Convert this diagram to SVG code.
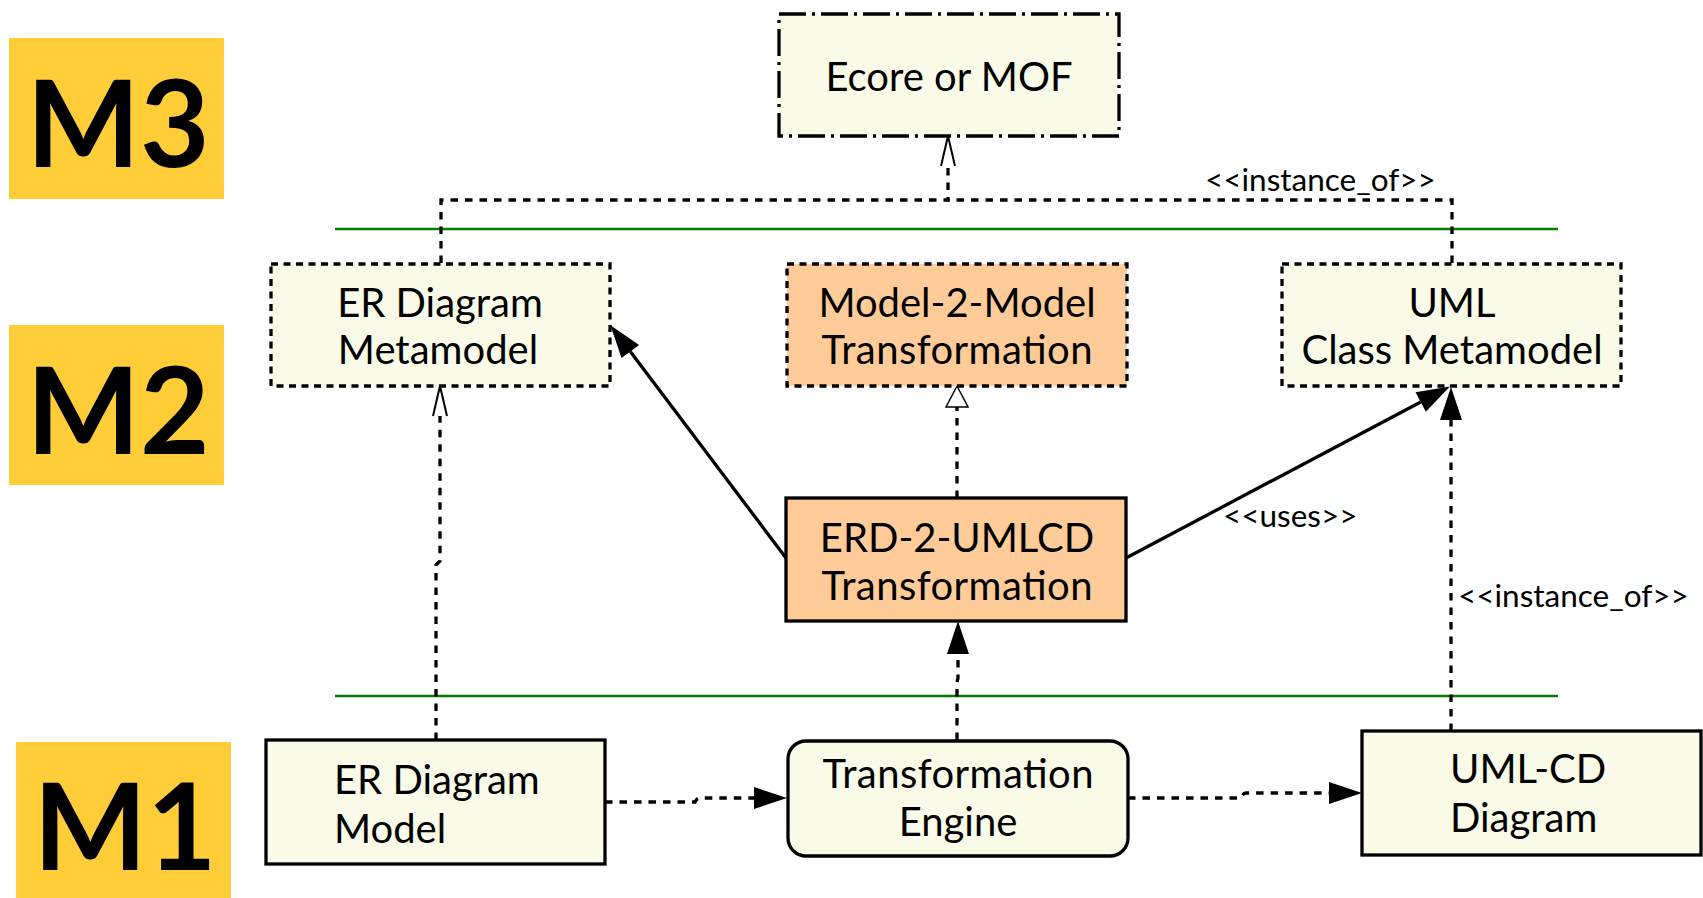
<svg xmlns="http://www.w3.org/2000/svg" width="1703" height="898" viewBox="0 0 1703 898">
  <style>
    .level { fill: #FFCD38; }
    .level-text { font-family: Lato, "Liberation Sans", sans-serif; font-weight: bold; font-size: 120px; fill: #000; text-anchor: middle; }
    .box { stroke: #000; stroke-width: 3.3; }
    .light { fill: #F9FBE8; }
    .peach { fill: #FFCC99; }
    .dashed { stroke-dasharray: 7 5.5; }
    .dashdot { stroke-dasharray: 27 6 3 6; }
    .label { font-family: Lato, "Liberation Sans", sans-serif; font-size: 40px; fill: #000; }
    .mid { text-anchor: middle; }
    .tag { font-family: Lato, "Liberation Sans", sans-serif; font-size: 31.5px; fill: #000; }
    .sep { stroke: #008000; stroke-width: 2.5; fill: none; }
    .conn { stroke: #000; stroke-width: 3.3; fill: none; }
    .conn-dash { stroke-dasharray: 7.5 7; }
  </style>
  <defs>
    <marker id="head-filled" markerUnits="userSpaceOnUse" markerWidth="34" markerHeight="24" refX="0" refY="11" orient="auto" overflow="visible">
      <path d="M0,0 L33,11 L0,22 Z" fill="#000"/>
    </marker>
    <marker id="head-hollow" markerUnits="userSpaceOnUse" markerWidth="24" markerHeight="24" refX="0" refY="11" orient="auto" overflow="visible">
      <path d="M0,0 L21,11 L0,22 Z" fill="#fff" stroke="#000" stroke-width="1.5"/>
    </marker>
    <marker id="head-open" markerUnits="userSpaceOnUse" markerWidth="32" markerHeight="18" refX="0" refY="8" orient="auto" overflow="visible">
      <path d="M0,1 L30,8 L0,15" fill="none" stroke="#000" stroke-width="2"/>
    </marker>
  </defs>

  <!-- level badges -->
  <g id="level-m3">
    <rect class="level" x="9" y="38" width="215" height="161"/>
    <text class="level-text" x="118" y="167">M3</text>
  </g>
  <g id="level-m2">
    <rect class="level" x="9" y="325" width="215" height="160"/>
    <text class="level-text" x="118" y="454">M2</text>
  </g>
  <g id="level-m1">
    <rect class="level" x="16" y="742" width="215" height="160"/>
    <text class="level-text" x="125" y="870">M1</text>
  </g>

  <!-- level separators -->
  <g id="separators">
    <line class="sep" x1="335" y1="229" x2="1558" y2="229"/>
    <line class="sep" x1="335" y1="696" x2="1558" y2="696"/>
  </g>

  <!-- connectors -->
  <g id="connectors">
    <path class="conn conn-dash" d="M441,263 V200 H948 V166" marker-end="url(#head-open)"/>
    <path class="conn conn-dash" d="M1452,263 V200 H948"/>
    <path class="conn conn-dash" d="M436,740 V565 L440,561 V416" marker-end="url(#head-open)"/>
    <path class="conn conn-dash" d="M957,498 V407" marker-end="url(#head-hollow)"/>
    <path class="conn" d="M786,558 L630.3,351.5" marker-end="url(#head-filled)"/>
    <path class="conn" d="M1126,558 L1420.7,402" marker-end="url(#head-filled)"/>
    <path class="conn conn-dash" d="M1451,731 V420" marker-end="url(#head-filled)"/>
    <path class="conn conn-dash" d="M957,740 V682 L958,678 V654" marker-end="url(#head-filled)"/>
    <path class="conn conn-dash" d="M605,802 H695 Q697,798 700,798 H754" marker-end="url(#head-filled)"/>
    <path class="conn conn-dash" d="M1128,798 H1241 Q1243,793 1246,793 H1329" marker-end="url(#head-filled)"/>
    <text class="tag" x="1205" y="191">&lt;&lt;instance_of&gt;&gt;</text>
    <text class="tag" x="1223" y="527">&lt;&lt;uses&gt;&gt;</text>
    <text class="tag" x="1458" y="607">&lt;&lt;instance_of&gt;&gt;</text>
  </g>

  <!-- M3 -->
  <g id="ecore-mof">
    <rect class="box light dashdot" x="779" y="14" width="340" height="122"/>
    <text class="label mid" x="949" y="91">Ecore or MOF</text>
  </g>

  <!-- M2 -->
  <g id="er-metamodel">
    <rect class="box light dashed" x="271" y="264" width="339" height="122"/>
    <text class="label mid" x="440" y="317">ER Diagram</text>
    <text class="label mid" x="438" y="364">Metamodel</text>
  </g>
  <g id="m2m-transformation">
    <rect class="box peach dashed" x="787" y="264" width="340" height="122"/>
    <text class="label mid" x="957" y="317">Model-2-Model</text>
    <text class="label mid" x="957" y="364" textLength="271" lengthAdjust="spacing">Transformation</text>
  </g>
  <g id="uml-class-metamodel">
    <rect class="box light dashed" x="1282" y="264" width="339" height="122"/>
    <text class="label mid" x="1452" y="317">UML</text>
    <text class="label mid" x="1452" y="364">Class Metamodel</text>
  </g>
  <g id="erd-2-umlcd">
    <rect class="box peach" x="786" y="498" width="340" height="123"/>
    <text class="label mid" x="957" y="552">ERD-2-UMLCD</text>
    <text class="label mid" x="957" y="600" textLength="271" lengthAdjust="spacing">Transformation</text>
  </g>

  <!-- M1 -->
  <g id="er-diagram-model">
    <rect class="box light" x="266" y="740" width="339" height="124"/>
    <text class="label" x="334" y="794">ER Diagram</text>
    <text class="label" x="334" y="843">Model</text>
  </g>
  <g id="transformation-engine">
    <rect class="box light" x="788" y="741" width="340" height="115" rx="18" ry="18"/>
    <text class="label mid" x="958" y="788" textLength="271" lengthAdjust="spacing">Transformation</text>
    <text class="label mid" x="958" y="836">Engine</text>
  </g>
  <g id="uml-cd-diagram">
    <rect class="box light" x="1362" y="731" width="339" height="124"/>
    <text class="label" x="1450" y="783">UML-CD</text>
    <text class="label" x="1450" y="832">Diagram</text>
  </g>
</svg>
